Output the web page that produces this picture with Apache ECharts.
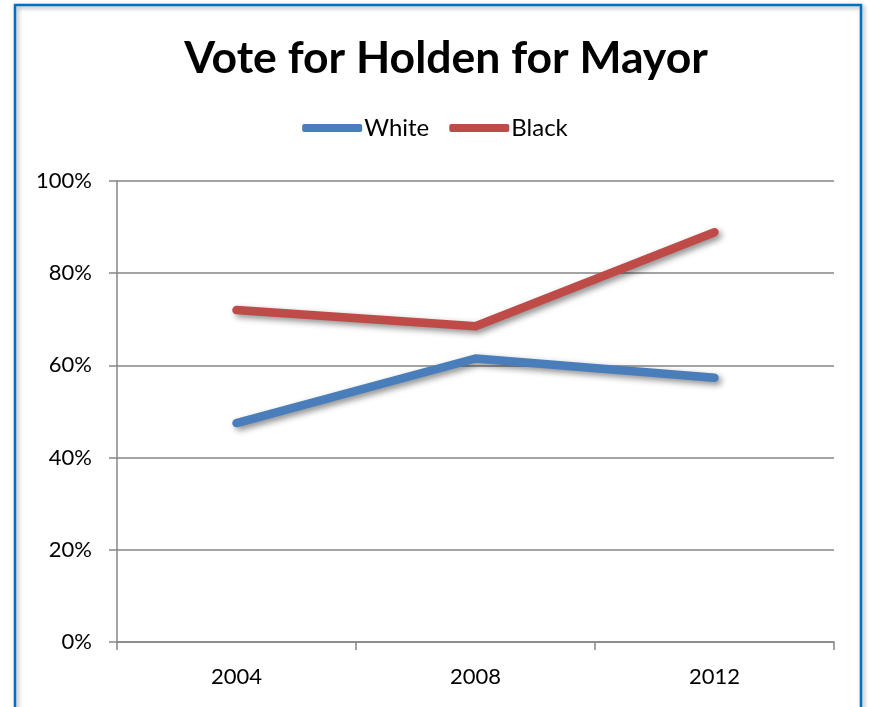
<!DOCTYPE html>
<html><head><meta charset="utf-8">
<script src="https://cdn.jsdelivr.net/npm/echarts@6/dist/echarts.min.js"></script>
<style>html,body{margin:0;padding:0;background:#fff}#c{width:870px;height:707px}</style>
</head><body><div id="c"></div>
<script>
const categories = ['2004', '2008', '2012'];
const whiteVals = [47.5, 61.5, 57.3];
const blackVals = [72.0, 68.5, 88.9];
const yTicks = [0, 20, 40, 60, 80, 100];

const chart = echarts.init(document.getElementById('c'));
const FONT = 'Lato';
const shadow = {shadowColor:'rgba(0,0,0,0.45)', shadowBlur:6, shadowOffsetX:3, shadowOffsetY:3};
chart.setOption({
  animation:false,
  backgroundColor:'#fff',
  graphic:[{type:'rect', shape:{x:15, y:5, width:846, height:740},
    style:{fill:'none', stroke:'#0070C0', lineWidth:2.5, shadowColor:'rgba(0,0,0,0.35)', shadowBlur:4, shadowOffsetX:2, shadowOffsetY:2}, z:-1}],
  title:{text:'Vote for Holden for Mayor', left:441, textAlign:'center', top:31,
    textStyle:{fontFamily:FONT, fontWeight:'bold', fontSize:44.5, color:'#000'}},
  legend:{top:111, left:'center', itemWidth:60, itemHeight:8, itemGap:20, icon:'roundRect',
    textStyle:{fontFamily:FONT, fontSize:24, color:'#000', padding:[0,0,0,-3]},
    data:['White','Black']},
  grid:{left:117, right:36, top:181, bottom:65, containLabel:false},
  xAxis:{type:'category', data:categories, boundaryGap:true,
    axisLine:{lineStyle:{color:'#868686', width:1.5}},
    axisTick:{show:true, length:8, lineStyle:{color:'#868686', width:1.5}},
    axisLabel:{fontFamily:FONT, fontSize:22, color:'#000', margin:24}},
  yAxis:{type:'value', min:0, max:100, interval:20,
    axisLine:{show:true, lineStyle:{color:'#868686', width:1.5}},
    axisTick:{show:true, length:8, lineStyle:{color:'#868686', width:1.5}},
    splitLine:{lineStyle:{color:'#868686', width:1.5}},
    axisLabel:{fontFamily:FONT, fontSize:22, color:'#000', margin:25,
      formatter:v => yTicks.includes(v) ? v + '%' : ''}},
  series:[
    {name:'White', type:'line', data:whiteVals, symbol:'none', color:'#4A7EBB',
      lineStyle:Object.assign({width:8.5, cap:'round', join:'round', color:'#4A7EBB'}, shadow)},
    {name:'Black', type:'line', data:blackVals, symbol:'none', color:'#BE4B48',
      lineStyle:Object.assign({width:8.5, cap:'round', join:'round', color:'#BE4B48'}, shadow)}
  ]
});
</script></body></html>
